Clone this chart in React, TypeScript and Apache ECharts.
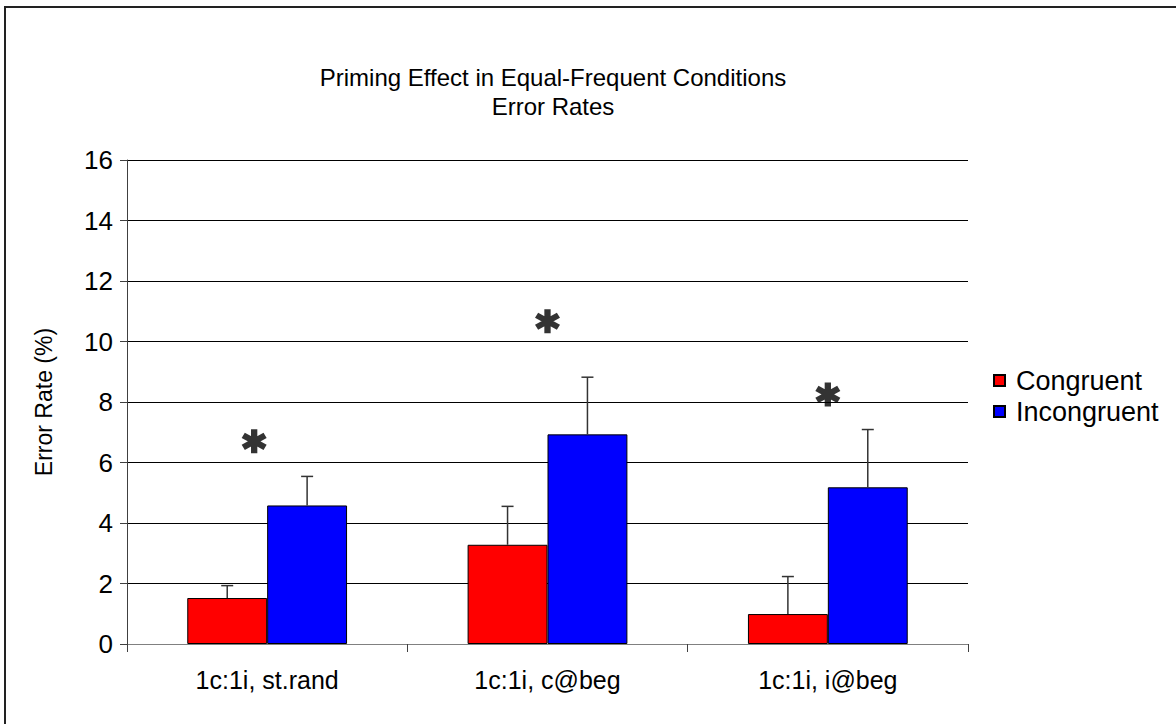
import React, { useEffect, useRef } from "react";
import * as echarts from "echarts";

const categories = ["1c:1i, st.rand", "1c:1i, c@beg", "1c:1i, i@beg"];
const congruent = [1.52, 3.28, 0.99];
const incongruent = [4.58, 6.93, 5.18];
const congruentErr = [0.41, 1.27, 1.24];
const incongruentErr = [0.96, 1.89, 1.91];
const starValues = [6.7, 10.67, 8.25];
const yTicks = [0, 2, 4, 6, 8, 10, 12, 14, 16];

const FONT = "'Liberation Sans', Arial, sans-serif";
const STAR_PATH =
  "path://M-0.25,-1L0.25,-1L0.25,1L-0.25,1Z" +
  "M0.741,-0.7165L0.991,-0.2835L-0.741,0.7165L-0.991,0.2835Z" +
  "M0.991,0.2835L0.741,0.7165L-0.991,-0.2835L-0.741,-0.7165Z";

const CATEGORY_GAP = 0.43;

function errorSeries(name: string, values: number[], errs: number[], side: number) {
  return {
    type: "custom",
    name: name + " err",
    silent: true,
    z: 5,
    data: values.map((v, i) => [i, v, errs[i]]),
    encode: { x: 0, y: 1 },
    renderItem: (params: any, api: any) => {
      const i = api.value(0);
      const v = api.value(1);
      const e = api.value(2);
      const band = api.size([1, 0])[0];
      const barW = (band * (1 - CATEGORY_GAP)) / 2;
      const base = api.coord([i, v]);
      const top = api.coord([i, v + e]);
      const x = base[0] + (side * barW) / 2;
      const stroke = { stroke: "#333", lineWidth: 1.5 };
      return {
        type: "group",
        children: [
          { type: "line", shape: { x1: x, y1: base[1], x2: x, y2: top[1] }, style: stroke },
          { type: "line", shape: { x1: x - 6, y1: top[1], x2: x + 6, y2: top[1] }, style: stroke },
        ],
      };
    },
  };
}

export default function App() {
  const ref = useRef<HTMLDivElement>(null);
  useEffect(() => {
    if (!ref.current) return;
    const chart = echarts.init(ref.current, null, { renderer: "svg" });
    chart.setOption({
      animation: false,
      backgroundColor: "#fff",
      title: {
        text: "Priming Effect in Equal-Frequent Conditions\nError Rates",
        left: 548,
        top: 58,
        textAlign: "center",
        textStyle: {
          fontFamily: FONT,
          fontSize: 24,
          fontWeight: "normal",
          color: "#000",
          lineHeight: 29,
        },
      },
      legend: {
        orient: "vertical",
        left: 993,
        top: 367,
        padding: 0,
        itemWidth: 11,
        itemHeight: 11,
        itemGap: 4,
        icon: "rect",
        data: ["Congruent", "Incongruent"],
        textStyle: { fontFamily: FONT, fontSize: 27, color: "#000", padding: [0, 0, 0, 6] },
      },
      graphic: [
        {
          type: "rect",
          shape: { x: 5, y: 7, width: 1190, height: 740 },
          style: { fill: "none", stroke: "#222", lineWidth: 2 },
          silent: true,
        },
      ],
      grid: { left: 127, right: 208, top: 160, bottom: 80, outerBoundsMode: "none" },
      xAxis: {
        type: "category",
        data: categories,
        axisLine: { lineStyle: { color: "#808080", width: 1 } },
        axisTick: { show: true, length: 8, lineStyle: { color: "#404040" } },
        axisLabel: { fontFamily: FONT, fontSize: 25, color: "#000", margin: 23 },
      },
      yAxis: {
        type: "value",
        min: yTicks[0],
        max: yTicks[yTicks.length - 1],
        interval: 2,
        name: "Error Rate (%)",
        nameLocation: "middle",
        nameGap: 72,
        nameTextStyle: { fontFamily: FONT, fontSize: 23, color: "#000" },
        axisLine: { show: true, lineStyle: { color: "#404040", width: 1 } },
        axisTick: { show: true, length: 7, lineStyle: { color: "#404040" } },
        axisLabel: { fontFamily: FONT, fontSize: 26, color: "#000", margin: 14 },
        splitLine: { lineStyle: { color: "#000", width: 1 } },
      },
      series: [
        {
          type: "bar",
          name: "Congruent",
          data: congruent,
          barGap: "0%",
          barCategoryGap: CATEGORY_GAP * 100 + "%",
          itemStyle: { color: "#ff0000", borderColor: "#000", borderWidth: 1 },
        },
        {
          type: "bar",
          name: "Incongruent",
          data: incongruent,
          barGap: "0%",
          barCategoryGap: CATEGORY_GAP * 100 + "%",
          itemStyle: { color: "#0000ff", borderColor: "#000", borderWidth: 1 },
        },
        errorSeries("Congruent", congruent, congruentErr, -1),
        errorSeries("Incongruent", incongruent, incongruentErr, 1),
        {
          type: "scatter",
          name: "significance",
          symbol: STAR_PATH,
          symbolSize: [25, 24],
          itemStyle: { color: "#000" },
          z: 6,
          data: starValues.map((v, i) => (i === 0 ? { value: v, symbolOffset: [-13, 0] } : v)),
        },
      ],
    });
    return () => chart.dispose();
  }, []);
  return (
    <div
      ref={ref}
      style={{ position: "fixed", left: 0, top: 0, width: 1176, height: 724 }}
    />
  );
}
